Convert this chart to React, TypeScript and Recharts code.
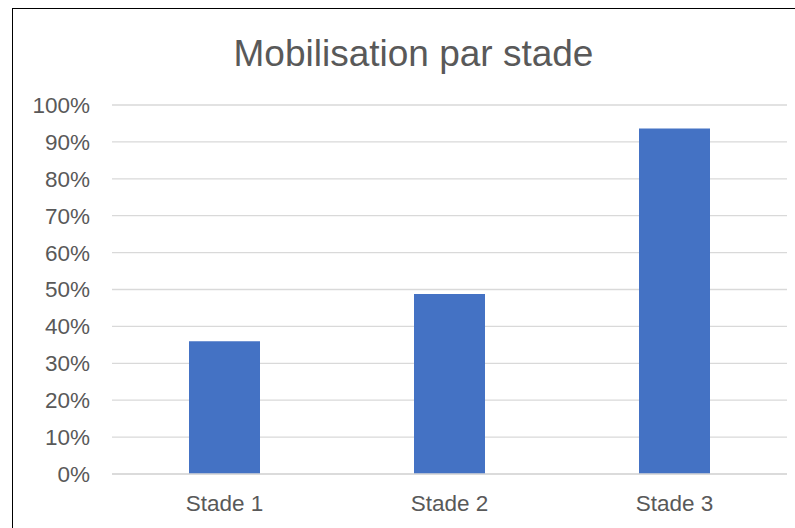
import { BarChart, Bar, XAxis, YAxis, CartesianGrid } from 'recharts';

const categories = ['Stade 1', 'Stade 2', 'Stade 3'];
const mobilisation = [0.36, 0.488, 0.936];
const yTicks = [0, 0.1, 0.2, 0.3, 0.4, 0.5, 0.6, 0.7, 0.8, 0.9, 1];

const data = categories.map((name, i) => ({ name, value: mobilisation[i] }));

const font = '"Liberation Sans", Arial, sans-serif';
const textColor = '#595959';

export default function App() {
    return (
        <div
            style={{
                position: 'fixed',
                left: 0,
                top: 0,
                width: 795,
                height: 528,
                overflow: 'hidden',
                background: '#fff',
                fontFamily: font,
            }}
        >
            {/* chart frame, runs off the right and bottom edge */}
            <div
                style={{
                    position: 'absolute',
                    left: 12,
                    top: 8,
                    width: 900,
                    height: 600,
                    border: '1px solid #000',
                    boxSizing: 'border-box',
                }}
            />
            <div
                style={{
                    position: 'absolute',
                    left: 0,
                    top: 35,
                    width: 827,
                    textAlign: 'center',
                    fontSize: 37,
                    lineHeight: '37px',
                    color: textColor,
                }}
            >
                Mobilisation par stade
            </div>
            <div style={{ position: 'absolute', left: 0, top: 0 }}>
                <BarChart
                    width={795}
                    height={528}
                    data={data}
                    margin={{ top: 105, right: 8, bottom: 0, left: 0 }}
                >
                    <CartesianGrid vertical={false} stroke="#D9D9D9" strokeWidth={1.3} />
                    <XAxis
                        dataKey="name"
                        height={54}
                        axisLine={{ stroke: '#D9D9D9', strokeWidth: 1.3 }}
                        tickLine={false}
                        tickMargin={15}
                        tick={{ fill: textColor, fontSize: 22.5, fontFamily: font }}
                    />
                    <YAxis
                        width={112}
                        domain={[0, 1]}
                        ticks={yTicks}
                        axisLine={false}
                        tickLine={false}
                        tickMargin={16}
                        tickFormatter={(v: number) => `${Math.round(v * 100)}%`}
                        tick={{ fill: textColor, fontSize: 22.5, fontFamily: font }}
                    />
                    <Bar dataKey="value" fill="#4472C4" barSize={71} isAnimationActive={false} />
                </BarChart>
            </div>
        </div>
    );
}
